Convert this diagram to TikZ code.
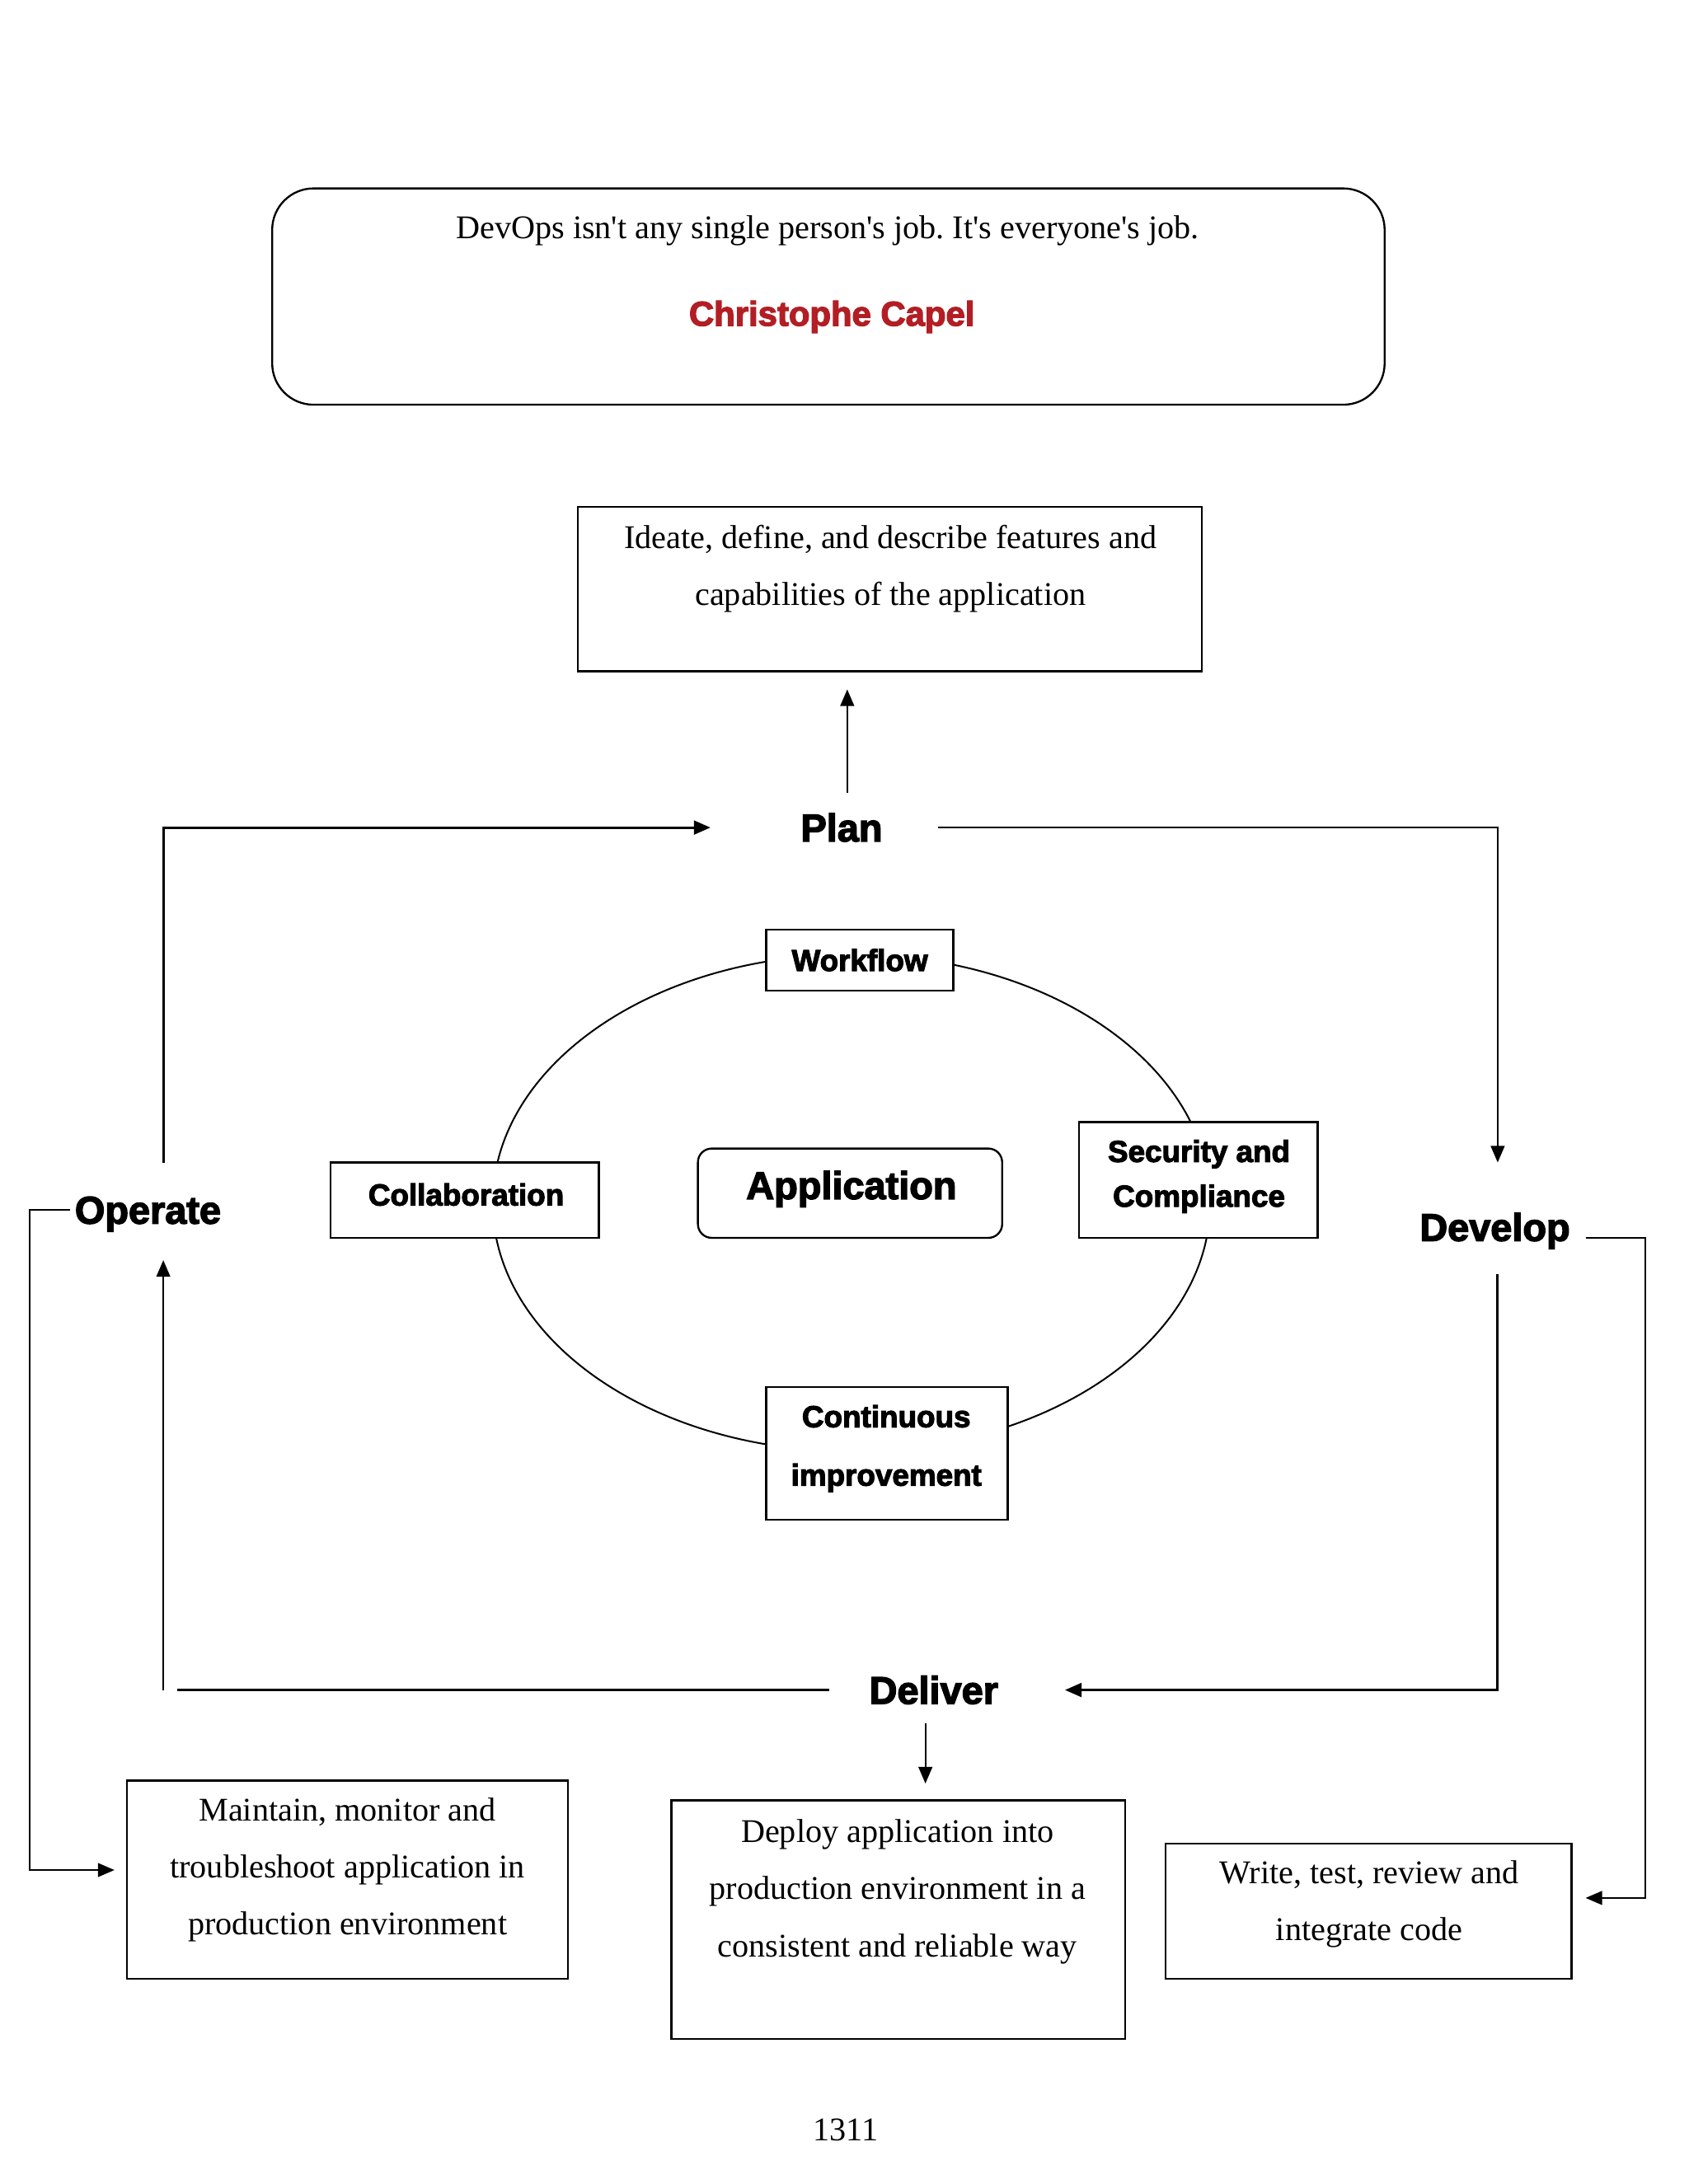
\documentclass[tikz,border=0pt]{standalone}
\usepackage{fontspec}
\setmainfont{Liberation Serif}[Ligatures=TeXOff]
\newfontfamily\hd{Liberation Sans}[BoldFeatures={FakeBold=3}]
\usetikzlibrary{arrows.meta}
\definecolor{capred}{RGB}{178,30,36}
\def\px{0.5058pt}
\frenchspacing
\begin{document}
\begin{tikzpicture}[x=0.5058pt,y=-0.5058pt,
  box/.style={draw,line width=0.7pt,fill=white,inner sep=0pt},
  rbox/.style={box,rounded corners=#1},
  lab/.style={font=\hd\bfseries\fontsize{14}{16}\selectfont,inner sep=0pt},
  blab/.style={font=\hd\bfseries\fontsize{11}{16.2}\selectfont,align=center,inner sep=0pt},
  stxt/.style={font=\fontsize{12}{20.7}\selectfont,align=center,inner sep=0pt},
  conn/.style={line width=0.6pt},
  arr/.style={conn,-{Triangle[length=6pt,width=5pt]}}]
\useasboundingbox (0,0) rectangle (1210,1565);
\fill[white] (0,0) rectangle (1210,1565);

% quote box
\node[rbox=15pt,minimum width=797*\px,minimum height=155*\px] (quote) at (593.5,212.5) {};
\node[stxt] (quotetxt) at (593,165) {DevOps isn't any single person's job. It's everyone's job.};
\node[font=\hd\bfseries\fontsize{12.5}{14}\selectfont,text=capred,inner sep=0pt] (author) at (596,227) {Christophe Capel};

% plan description
\node[box,minimum width=447*\px,minimum height=118*\px] (ideate) at (637.5,422) {};
\node[stxt] (ideatetxt) at (638,407.5) {Ideate, define, and describe features and\\capabilities of the application};

% stage labels
\node[lab] (plan) at (603,593) {Plan};
\node[lab] (operate) at (106,870) {Operate};
\node[lab] (develop) at (1071,882) {Develop};
\node[lab] (deliver) at (669,1211) {Deliver};

% central cycle
\draw[line width=0.6pt] (610,862) ellipse [x radius=257, y radius=178];
\node[box,minimum width=134*\px,minimum height=44*\px] (workflow) at (616,688) {};
\node[blab] (workflowtxt) at (616,688) {Workflow};
\node[box,minimum width=192*\px,minimum height=54*\px] (collab) at (333,860) {};
\node[blab] (collabtxt) at (334,856) {Collaboration};
\node[rbox=5pt,minimum width=218*\px,minimum height=64*\px] (app) at (609,855) {};
\node[lab] (apptxt) at (610,852) {Application};
\node[box,minimum width=171*\px,minimum height=83*\px] (secur) at (858.5,845.5) {};
\node[blab] (securtxt) at (859,843) {Security and\\Compliance};
\node[box,minimum width=173*\px,minimum height=95*\px] (contin) at (635.5,1041.5) {};
\node[blab,font=\hd\bfseries\fontsize{11}{21.2}\selectfont] (contintxt) at (635,1038) {Continuous\\improvement};

% bottom descriptions
\node[box,minimum width=316*\px,minimum height=142*\px] (maintain) at (249,1347) {};
\node[stxt] (maintaintxt) at (249,1340) {Maintain, monitor and\\troubleshoot application in\\production environment};
\node[box,minimum width=325*\px,minimum height=171*\px] (deploy) at (643.5,1375.5) {};
\node[stxt] (deploytxt) at (643,1355.5) {Deploy application into\\production environment in a\\consistent and reliable way};
\node[box,minimum width=291*\px,minimum height=97*\px] (write) at (980.5,1369.5) {};
\node[stxt] (writetxt) at (981,1364.5) {Write, test, review and\\integrate code};

\node[font=\fontsize{12}{14}\selectfont,inner sep=0pt] (pagenum) at (606,1526) {1311};

% connectors
\coordinate (pu1) at (607,568); \coordinate (pu2) at (607,494);
\draw[arr] (pu1) -- (pu2);

\coordinate (pr1) at (672,593); \coordinate (pr2) at (1073,593); \coordinate (pr3) at (1073,833);
\draw[arr] (pr1) -- (pr2) -- (pr3);

\coordinate (op1) at (117,833); \coordinate (op2) at (117,593); \coordinate (op3) at (509,593);
\draw[arr,line width=0.9pt] (op1) -- (op2) -- (op3);

\coordinate (ol1) at (50,867); \coordinate (ol2) at (21,867); \coordinate (ol3) at (21,1340); \coordinate (ol4) at (82,1340);
\draw[arr] (ol1) -- (ol2) -- (ol3) -- (ol4);

\coordinate (ou1) at (117,1211); \coordinate (ou2) at (117,903);
\draw[arr] (ou1) -- (ou2);

\coordinate (dr1) at (1136,887); \coordinate (dr2) at (1179,887); \coordinate (dr3) at (1179,1360); \coordinate (dr4) at (1136,1360);
\draw[arr] (dr1) -- (dr2) -- (dr3) -- (dr4);

\coordinate (dd1) at (1073,913); \coordinate (dd2) at (1073,1211); \coordinate (dd3) at (763,1211);
\draw[arr,line width=0.9pt] (dd1) -- (dd2) -- (dd3);

\coordinate (dl1) at (594,1211); \coordinate (dl2) at (127,1211);
\draw[conn,line width=0.9pt] (dl1) -- (dl2);

\coordinate (dv1) at (663,1235); \coordinate (dv2) at (663,1278);
\draw[arr] (dv1) -- (dv2);
\end{tikzpicture}
\end{document}
